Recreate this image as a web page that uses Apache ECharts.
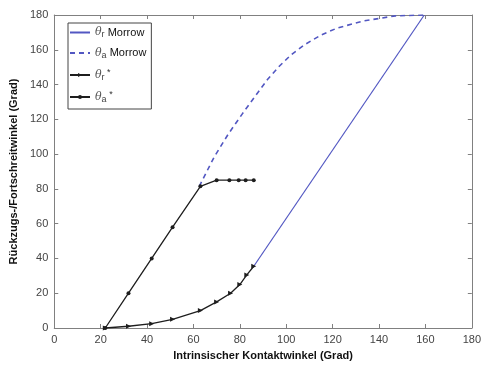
<!DOCTYPE html>
<html>
<head>
<meta charset="utf-8">
<script src="https://cdn.jsdelivr.net/npm/echarts@6/dist/echarts.min.js"></script>
<style>
    html, body { margin: 0; padding: 0; background: #fff; }
    #chart { width: 484px; height: 367px; }
</style>
</head>
<body>
<div id="chart"></div>
<script>
    // Morrow model curves
    const morrowReceding = [[86, 35.5], [159.5, 180]];
    const morrowAdvancing = [
        [62.5, 81.5], [69, 98.5], [75, 111.5], [81, 123], [87, 134], [92, 143],
        [97, 150.5], [102, 157], [108, 163], [115, 168.5],
        [122, 172.5], [133, 176.5], [147, 179.5], [159.5, 180]
    ];
    // simulated values (starred)
    const recedingStar = [
        [22, 0], [32, 1], [42, 2.5], [51, 5], [63, 10], [70, 15], [76, 20],
        [80, 25], [83, 30.5], [86, 35.5]
    ];
    const advancingStar = [
        [22, 0], [32, 20], [42, 40], [51, 58], [63, 81.5], [70, 85], [75.5, 85],
        [79.5, 85], [82.5, 85], [86, 85]
    ];
    const tickValues = [0, 20, 40, 60, 80, 100, 120, 140, 160, 180];

    const legendNames = {
        'r Morrow': '{th|θ}{sub|r}{txt| Morrow}',
        'a Morrow': '{th|θ}{sub|a}{txt| Morrow}',
        'r star': '{th|θ}{sub|r}{sup| *}',
        'a star': '{th|θ}{sub|a}{sup| *}'
    };

    const blue = '#5257c2';
    const black = '#1e1e1e';
    const frame = '#808080';

    let chart = echarts.init(document.getElementById('chart'));

    function baseAxis(pos, showLabels, name) {
        return {
            type: 'value',
            position: pos,
            min: tickValues[0],
            max: tickValues[tickValues.length - 1],
            interval: 20,
            name: name,
            nameLocation: 'middle',
            nameGap: pos === 'bottom' ? 22 : 32,
            nameTextStyle: {
                fontFamily: 'Liberation Sans',
                fontWeight: 'bold',
                fontSize: 11,
                color: '#111'
            },
            axisLine: { show: true, onZero: false, lineStyle: { color: frame, width: 1 } },
            axisTick: { show: true, inside: true, length: 4, lineStyle: { color: frame } },
            axisLabel: {
                show: showLabels,
                color: '#444',
                fontFamily: 'Liberation Sans',
                fontSize: 11,
                margin: 6
            },
            splitLine: { show: false }
        };
    }

    chart.setOption({
        animation: false,
        grid: { left: 53, right: 11, top: 15, bottom: 39 },
        xAxis: [
            baseAxis('bottom', true, 'Intrinsischer Kontaktwinkel (Grad)'),
            baseAxis('top', false, '')
        ],
        yAxis: [
            baseAxis('left', true, 'Rückzugs-/Fortschreitwinkel (Grad)'),
            baseAxis('right', false, '')
        ],
        legend: {
            orient: 'vertical',
            left: 68,
            top: 23,
            itemWidth: 20,
            itemHeight: 5,
            itemGap: 8,
            padding: [4, 5, 5, 1],
            borderColor: '#444',
            borderWidth: 1,
            borderRadius: 0,
            backgroundColor: '#fff',
            formatter: function (name) { return legendNames[name]; },
            textStyle: {
                fontFamily: 'Liberation Sans',
                fontSize: 11,
                color: '#111',
                rich: {
                    th: { fontFamily: 'DejaVu Serif', fontStyle: 'italic', fontSize: 11, color: '#555', lineHeight: 14, verticalAlign: 'middle' },
                    sub: { fontFamily: 'Liberation Sans', fontSize: 9, color: '#444', lineHeight: 1, verticalAlign: 'bottom' },
                    sup: { fontFamily: 'Liberation Sans', fontSize: 9, color: '#333', lineHeight: 1, verticalAlign: 'top' },
                    txt: { fontFamily: 'Liberation Sans', fontSize: 11, color: '#111', lineHeight: 14, verticalAlign: 'middle' }
                }
            },
            data: [
                { name: 'r Morrow', itemStyle: { opacity: 0 } },
                { name: 'a Morrow', itemStyle: { opacity: 0 } },
                'r star',
                'a star'
            ]
        },
        series: [
            {
                name: 'r Morrow',
                type: 'line',
                data: morrowReceding,
                symbol: 'none',
                lineStyle: { color: blue, width: 1.2 },
                itemStyle: { color: blue }
            },
            {
                name: 'a Morrow',
                type: 'line',
                data: morrowAdvancing,
                symbol: 'none',
                lineStyle: { color: blue, width: 1.6, type: [5, 4] },
                itemStyle: { color: blue }
            },
            {
                name: 'r star',
                type: 'line',
                data: recedingStar,
                symbol: 'triangle',
                symbolRotate: -90,
                symbolSize: 5,
                lineStyle: { color: black, width: 1.3 },
                itemStyle: { color: black }
            },
            {
                name: 'a star',
                type: 'line',
                data: advancingStar,
                symbol: 'circle',
                symbolSize: 4,
                lineStyle: { color: black, width: 1.3 },
                itemStyle: { color: black }
            }
        ]
    });
</script>
</body>
</html>
